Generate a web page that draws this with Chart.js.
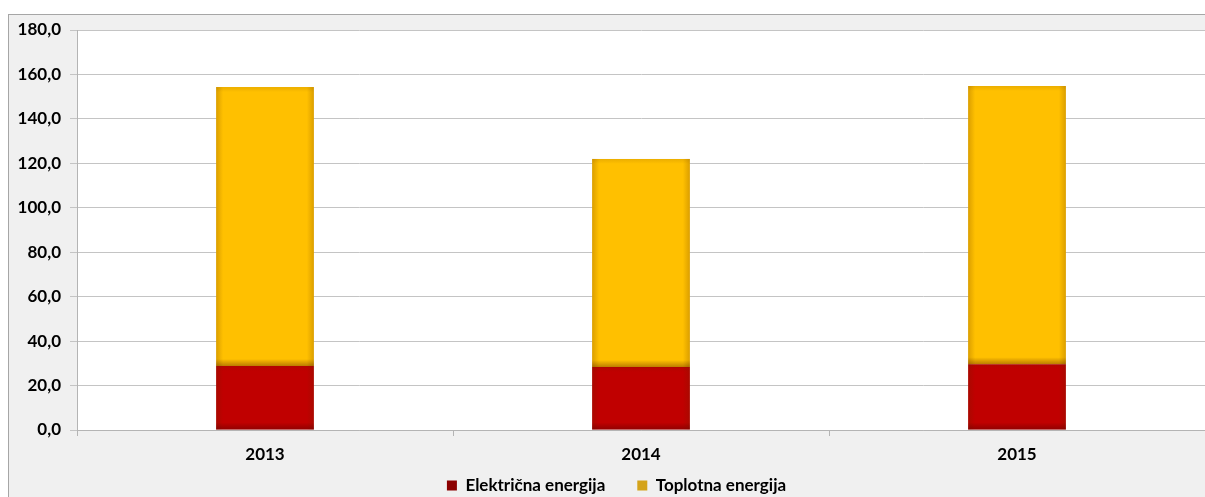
<!DOCTYPE html>
<html>
<head>
<meta charset="utf-8">
<script src="https://cdn.jsdelivr.net/npm/chart.js@4.4.1/dist/chart.umd.min.js"></script>
<style>
	html, body { margin: 0; padding: 0; background: #ffffff; }
	#wrap { width: 1205px; height: 497px; }
</style>
</head>
<body>
<div id="wrap"><canvas id="chart" width="1205" height="497"></canvas></div>
<script>

const years = [ '2013', '2014', '2015' ];
const elektricna = [ 28.8, 28.3, 29.6 ];
const toplotna = [ 125.5, 93.7, 125.2 ];

const seriesNames = [ 'Električna energija', 'Toplotna energija' ];
const barColours = [ '#c00000', '#ffc000' ];
const legendColours = [ '#8b0000', '#d4a31a' ];

const fontFamily = 'Lato, "Open Sans", sans-serif';

// grey outer frame and white plot area behind everything
const framePlugin = {

	id: 'frame',

	beforeDraw ( chart ) {

		const ctx = chart.ctx;
		const area = chart.chartArea;

		ctx.save();
		ctx.fillStyle = '#ffffff';
		ctx.fillRect( 0, 0, chart.width, chart.height );

		ctx.fillStyle = '#f0f0f0';
		ctx.fillRect( 8, 14, chart.width, chart.height );
		ctx.strokeStyle = '#a6a6a6';
		ctx.lineWidth = 1;
		ctx.strokeRect( 8.5, 14.5, chart.width, chart.height );

		ctx.fillStyle = '#ffffff';
		ctx.fillRect( area.left, area.top, area.right - area.left, area.bottom - area.top );
		ctx.restore();

	}

};

// wide gap between legend items needs a big padding; stretch the legend box
// upwards after layout (it clips to its box) and shift it a little right
const legendNudge = {

	id: 'legendNudge',

	afterLayout ( chart ) {

		const lg = chart.legend;

		lg.top -= 25;
		lg.left += 14;
		lg.right += 14;

	}

};

// soft darker edges on each bar segment
const shadePlugin = {

	id: 'shade',

	afterDatasetsDraw ( chart ) {

		const ctx = chart.ctx;

		ctx.save();

		chart.data.datasets.forEach( ( ds, di ) => {

			chart.getDatasetMeta( di ).data.forEach( bar => {

				const x0 = bar.x - bar.width / 2;
				const x1 = bar.x + bar.width / 2;
				const top = Math.min( bar.y, bar.base );
				const bottom = Math.max( bar.y, bar.base );
				const h = bottom - top;
				const edge = 7;

				let g = ctx.createLinearGradient( x0, 0, x0 + edge, 0 );
				g.addColorStop( 0, 'rgba(90,40,0,0.22)' );
				g.addColorStop( 1, 'rgba(90,40,0,0)' );
				ctx.fillStyle = g;
				ctx.fillRect( x0, top, edge, h );

				g = ctx.createLinearGradient( x1, 0, x1 - edge, 0 );
				g.addColorStop( 0, 'rgba(90,40,0,0.22)' );
				g.addColorStop( 1, 'rgba(90,40,0,0)' );
				ctx.fillStyle = g;
				ctx.fillRect( x1 - edge, top, edge, h );

				g = ctx.createLinearGradient( 0, bottom, 0, bottom - edge );
				g.addColorStop( 0, 'rgba(60,0,0,0.35)' );
				g.addColorStop( 1, 'rgba(60,0,0,0)' );
				ctx.fillStyle = g;
				ctx.fillRect( x0, bottom - edge, x1 - x0, edge );

				g = ctx.createLinearGradient( 0, top, 0, top + 5 );
				g.addColorStop( 0, 'rgba(90,40,0,0.12)' );
				g.addColorStop( 1, 'rgba(90,40,0,0)' );
				ctx.fillStyle = g;
				ctx.fillRect( x0, top, x1 - x0, 5 );

			} );

		} );

		ctx.restore();

	}

};

const config = {
	type: 'bar',
	data: {
		labels: years,
		datasets: [ {
			label: seriesNames[ 0 ],
			data: elektricna,
			backgroundColor: barColours[ 0 ],
			barPercentage: 0.26,
			categoryPercentage: 1
		}, {
			label: seriesNames[ 1 ],
			data: toplotna,
			backgroundColor: barColours[ 1 ],
			barPercentage: 0.26,
			categoryPercentage: 1
		} ]
	},
	options: {
		responsive: false,
		animation: false,
		layout: {
			padding: { left: 0, right: 0, top: 30, bottom: 0 }
		},
		scales: {
			x: {
				stacked: true,
				offset: true,
				border: { color: '#b4b4b4' },
				grid: {
					offset: true,
					drawOnChartArea: false,
					tickLength: 6,
					color: '#b4b4b4'
				},
				ticks: {
					color: '#000000',
					padding: 8,
					font: { family: fontFamily, size: 17, weight: 'bold' }
				},
				afterFit: scale => { scale.height = 40; }
			},
			y: {
				stacked: true,
				min: 0,
				max: 180,
				border: { color: '#b4b4b4' },
				grid: {
					color: '#c4c4c4',
					tickLength: 7
				},
				ticks: {
					stepSize: 20,
					color: '#000000',
					padding: 9,
					font: { family: fontFamily, size: 17, weight: 'bold' },
					callback: v => v.toFixed( 1 ).replace( '.', ',' )
				},
				afterFit: scale => { scale.width = 77; }
			}
		},
		plugins: {
			tooltip: { enabled: false },
			legend: {
				position: 'bottom',
				maxHeight: 27,
				labels: {
					boxWidth: 10,
					boxHeight: 10,
					padding: 32,
					color: '#000000',
					font: { family: fontFamily, size: 17, weight: 'bold' },
					generateLabels: () => seriesNames.map( ( name, i ) => ( {
						text: name,
						fillStyle: legendColours[ i ],
						strokeStyle: legendColours[ i ],
						lineWidth: 0,
						datasetIndex: i
					} ) )
				}
			}
		}
	},
	plugins: [ framePlugin, legendNudge, shadePlugin ]
};

new Chart( document.getElementById( 'chart' ), config );

</script>
</body>
</html>
